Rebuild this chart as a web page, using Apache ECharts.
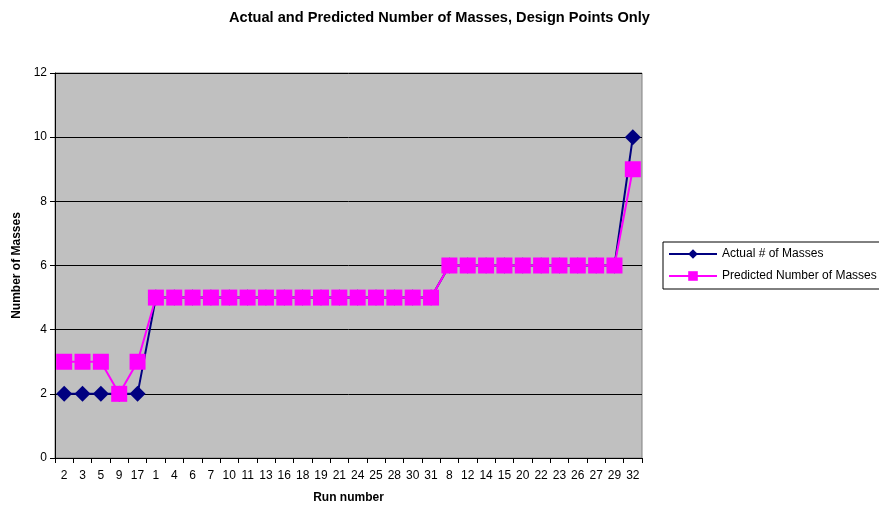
<!DOCTYPE html>
<html>
<head>
<meta charset="utf-8">
<script src="https://cdn.jsdelivr.net/npm/echarts@6/dist/echarts.min.js"></script>
<style>
html, body { margin: 0; padding: 0; background: #fff; }
#chart { width: 879px; height: 505px; }
</style>
</head>
<body>
<div id="chart"></div>
<script>
// Run numbers in the order they appear on the x axis
const runNumbers = ['2','3','5','9','17','1','4','6','7','10','11','13','16','18','19','21','24','25','28','30','31','8','12','14','15','20','22','23','26','27','29','32'];

// Observed mass counts per run
const actualMasses = [2,2,2,2,2,5,5,5,5,5,5,5,5,5,5,5,5,5,5,5,5,6,6,6,6,6,6,6,6,6,6,10];

// Model predictions per run
const predictedMasses = [3,3,3,2,3,5,5,5,5,5,5,5,5,5,5,5,5,5,5,5,5,6,6,6,6,6,6,6,6,6,6,9];

const yTicks = { min: 0, max: 12, interval: 2 };

const chart = echarts.init(document.getElementById('chart'), null, { renderer: 'canvas' });
const font = 'Liberation Sans, Arial, sans-serif';

chart.setOption({
  animation: false,
  textStyle: { fontFamily: font },
  title: {
    text: 'Actual and Predicted Number of Masses, Design Points Only',
    left: 224,
    top: 5,
    textStyle: { fontSize: 14.6, fontWeight: 'bold', color: '#000', fontFamily: font }
  },
  grid: {
    left: 55, right: 237, top: 73, bottom: 47,
    outerBoundsMode: 'none',
    containLabel: false,
    show: true,
    backgroundColor: '#C0C0C0',
    borderColor: '#808080',
    borderWidth: 1
  },
  legend: {
    orient: 'vertical',
    left: 663,
    top: 242,
    itemWidth: 48,
    itemHeight: 12,
    itemGap: 10,
    padding: [6, 8, 7, 5],
    borderColor: '#000',
    borderWidth: 1,
    backgroundColor: '#fff',
    textStyle: { fontSize: 12, color: '#000', fontFamily: font },
    data: [
      { name: 'Actual # of Masses' },
      { name: 'Predicted Number of Masses' }
    ]
  },
  xAxis: {
    type: 'category',
    data: runNumbers,
    boundaryGap: true,
    name: 'Run number',
    nameLocation: 'middle',
    nameGap: 34,
    nameTextStyle: { fontSize: 12, fontWeight: 'bold', color: '#000' },
    axisLine: { lineStyle: { color: '#000', width: 1 } },
    axisTick: { show: true, length: 5, lineStyle: { color: '#000' } },
    axisLabel: { fontSize: 12, color: '#000', margin: 12, interval: 0 },
    splitLine: { show: false }
  },
  yAxis: {
    type: 'value',
    min: yTicks.min,
    max: yTicks.max,
    interval: yTicks.interval,
    name: 'Number of Masses',
    nameLocation: 'middle',
    nameGap: 27,
    nameTextStyle: { fontSize: 12, fontWeight: 'bold', color: '#000' },
    axisLine: { show: true, lineStyle: { color: '#000', width: 1 } },
    axisTick: { show: true, length: 5, lineStyle: { color: '#000' } },
    axisLabel: { fontSize: 12, color: '#000', margin: 8 },
    splitLine: { show: true, lineStyle: { color: '#000', width: 1 } }
  },
  series: [
    {
      name: 'Actual # of Masses',
      type: 'line',
      data: actualMasses,
      symbol: 'diamond',
      symbolSize: 16,
      lineStyle: { color: '#000080', width: 2 },
      itemStyle: { color: '#000080' },
      z: 2
    },
    {
      name: 'Predicted Number of Masses',
      type: 'line',
      data: predictedMasses,
      symbol: 'rect',
      symbolSize: 16,
      lineStyle: { color: '#FF00FF', width: 2 },
      itemStyle: { color: '#FF00FF' },
      z: 3
    }
  ]
});
</script>
</body>
</html>
